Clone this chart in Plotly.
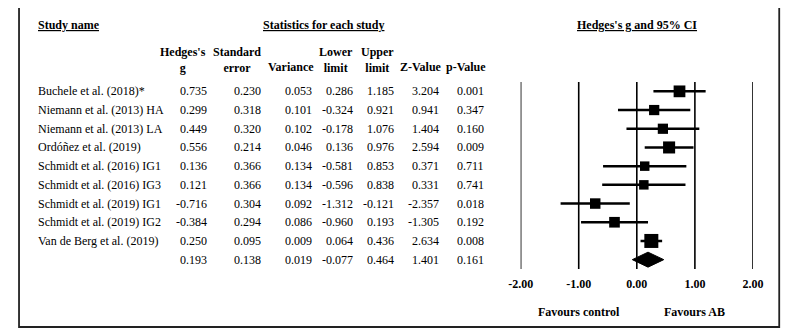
import plotly.graph_objects as go

OFF = 8  # page body margin offset
W, H = 797 - OFF, 335 - OFF

studies = ["Buchele et al. (2018)*", "Niemann et al. (2013) HA", "Niemann et al. (2013) LA",
           "Ordóñez et al. (2019)", "Schmidt et al. (2016) IG1", "Schmidt et al. (2016) IG3",
           "Schmidt et al. (2019) IG1", "Schmidt et al. (2019) IG2", "Van de Berg et al. (2019)"]
hedges_g = [0.735, 0.299, 0.449, 0.556, 0.136, 0.121, -0.716, -0.384, 0.250]
std_err = [0.230, 0.318, 0.320, 0.214, 0.366, 0.366, 0.304, 0.294, 0.095]
variance = [0.053, 0.101, 0.102, 0.046, 0.134, 0.134, 0.092, 0.086, 0.009]
lower = [0.286, -0.324, -0.178, 0.136, -0.581, -0.596, -1.312, -0.960, 0.064]
upper = [1.185, 0.921, 1.076, 0.976, 0.853, 0.838, -0.121, 0.193, 0.436]
z_value = [3.204, 0.941, 1.404, 2.594, 0.371, 0.331, -2.357, -1.305, 2.634]
p_value = [0.001, 0.347, 0.160, 0.009, 0.711, 0.741, 0.018, 0.192, 0.008]

summary = {"g": 0.193, "se": 0.138, "var": 0.019, "lower": -0.077, "upper": 0.464,
           "z": 1.401, "p": 0.161}

tick_vals = [-2, -1, 0, 1, 2]
tick_text = ["-2.00", "-1.00", "0.00", "1.00", "2.00"]
tau2 = 0.097  # between-study variance used for random-effects weights

FONT = "Liberation Serif"
FS = 12

n = len(studies)
weights = [1.0 / (v + tau2) for v in variance]
wmax = max(weights)
sizes = [14.0 * (w / wmax) ** 0.5 for w in weights]

fig = go.Figure()

# CI lines
xs, ys = [], []
for i in range(n):
    xs += [lower[i], upper[i], None]
    ys += [i, i, None]
fig.add_trace(go.Scatter(x=xs, y=ys, mode="lines", line=dict(color="black", width=2.5),
                         hoverinfo="skip", showlegend=False))
# squares
fig.add_trace(go.Scatter(x=hedges_g, y=list(range(n)), mode="markers",
                         marker=dict(symbol="square", size=sizes, color="black", opacity=1,
                                     line=dict(width=0)),
                         showlegend=False, cliponaxis=False))
# diamond
dy = 0.4
fig.add_trace(go.Scatter(x=[summary["lower"], summary["g"], summary["upper"], summary["g"], summary["lower"]],
                         y=[n, n - dy, n, n + dy, n], mode="lines", fill="toself",
                         fillcolor="black", line=dict(color="black", width=1), showlegend=False))


def py(px):
    return 1 - (px - OFF) / H


def px_x(px):
    return (px - OFF) / W


ann = []


def add(text, x, y, xanchor="center", bold=False, xref="paper", yref="paper"):
    if bold:
        text = "<b>" + text + "</b>"
    ann.append(dict(text=text, x=x, y=y, xref=xref, yref=yref, xanchor=xanchor,
                    yanchor="middle", showarrow=False,
                    font=dict(family=FONT, size=FS, color="black")))


# top headings
add("<u>Study name</u>", px_x(24), py(25), xanchor="left", bold=True)
add("<u>Statistics for each study</u>", px_x(320), py(25), bold=True)
add("<u>Hedges's g and 95% CI</u>", 0, py(25), bold=True, xref="x")

col_right = [202, 258, 310, 353, 395, 441, 487]
head_center = [176, 231, 287, 333, 376, 420, 467]
heads = ["Hedges's<br>g", "Standard<br>error", "Variance", "Lower<br>limit", "Upper<br>limit",
         "Z-Value", "p-Value"]
for h, cx in zip(heads, head_center):
    if "<br>" in h:
        add(h, px_x(cx), py(59.5), bold=True)
    else:
        add(h, px_x(cx), py(67), bold=True)

cols = [hedges_g, std_err, variance, lower, upper, z_value, p_value]
for i in range(n):
    add(studies[i], px_x(24), i, xanchor="left", yref="y")
    for c, rx in zip(cols, col_right):
        add(f"{c[i]:.3f}", px_x(rx), i, xanchor="right", yref="y")
sum_vals = [summary["g"], summary["se"], summary["var"], summary["lower"], summary["upper"],
            summary["z"], summary["p"]]
for v, rx in zip(sum_vals, col_right):
    add(f"{v:.3f}", px_x(rx), n, xanchor="right", yref="y")

add("Favours control", -1, py(312), bold=True, xref="x")
add("Favours AB", 1, py(312), bold=True, xref="x")

x0, x1 = 523, 762
top, bot = 82, 269

shapes = [dict(type="rect", xref="paper", yref="paper", x0=px_x(7), x1=px_x(789),
               y0=py(327), y1=py(7), line=dict(color="#222222", width=1.8))]
for tv in tick_vals:
    shapes.append(dict(type="line", xref="x", yref="y", x0=tv, x1=tv, y0=-0.5, y1=n + 0.5,
                       line=dict(color="black", width=1.6), layer="below"))

fig.update_layout(
    width=W, height=H, margin=dict(l=0, r=0, t=0, b=0),
    paper_bgcolor="white", plot_bgcolor="white",
    annotations=ann,
    shapes=shapes,
    xaxis=dict(domain=[px_x(x0), px_x(x1)], range=[-2, 2], tickvals=tick_vals, ticktext=tick_text,
               showgrid=False, zeroline=False, showline=False,
               ticks="", tickfont=dict(family=FONT, size=FS, color="black", weight="bold"),
               ticklabelstandoff=6, fixedrange=True),
    yaxis=dict(domain=[py(bot), py(top)], range=[n + 0.5, -0.5], visible=False,
               showgrid=False, zeroline=False, fixedrange=True),
    showlegend=False,
)

fig.write_html("out.html")
